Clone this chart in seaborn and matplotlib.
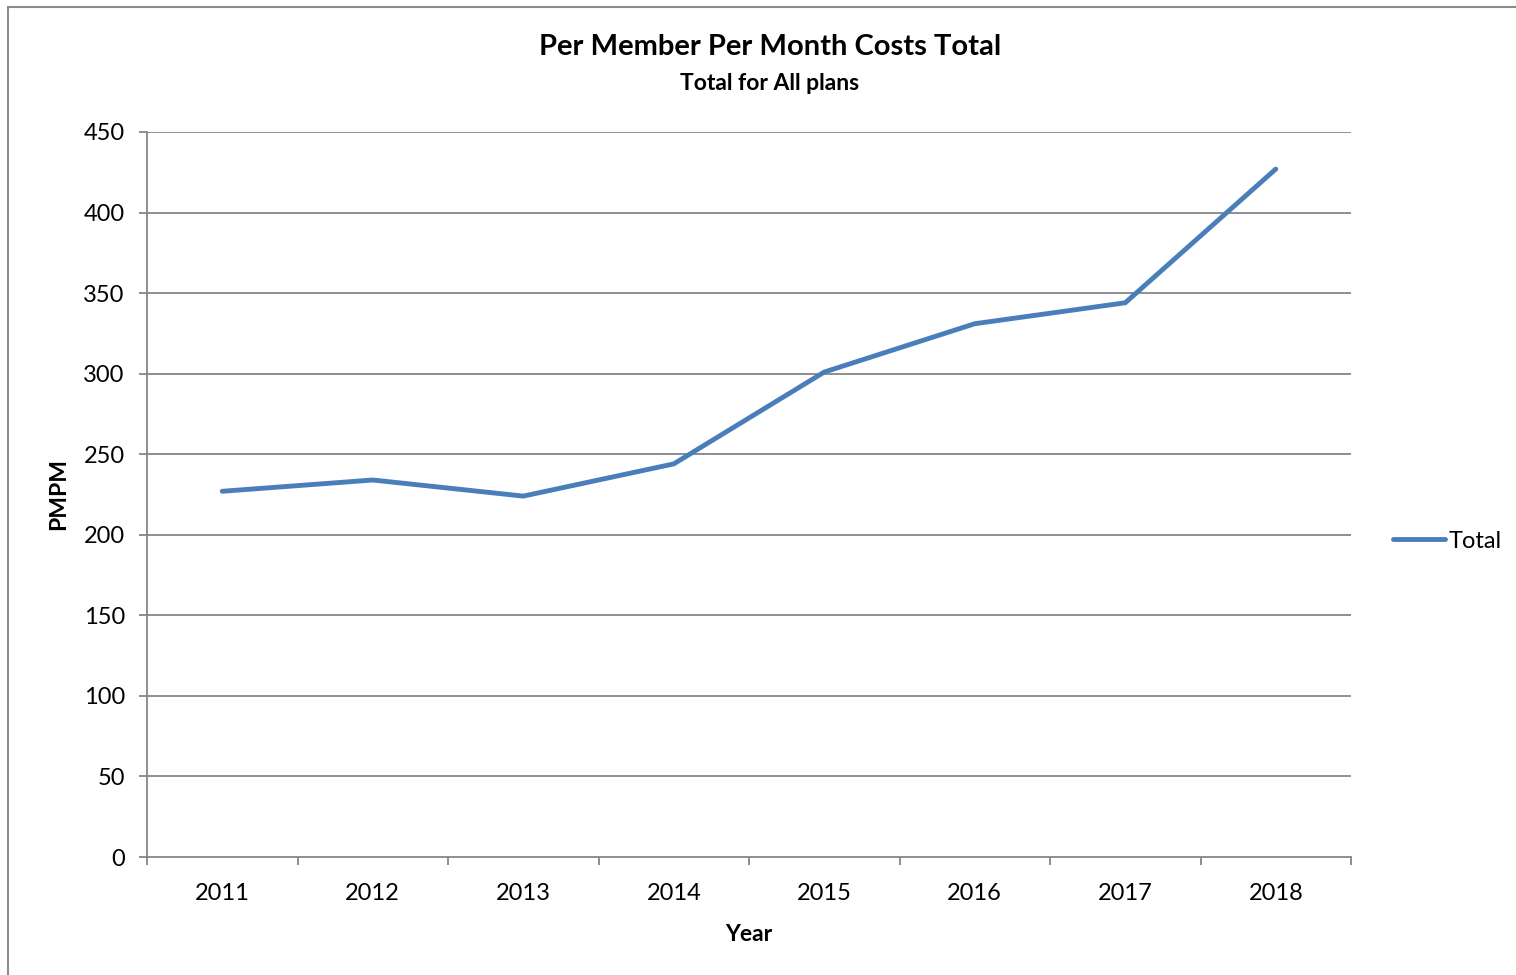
import matplotlib
matplotlib.use("Agg")
import matplotlib.pyplot as plt
from matplotlib.patches import Rectangle
from matplotlib.lines import Line2D
import seaborn as sns
import pandas as pd

# Per member per month costs, all plans combined
years = ["2011", "2012", "2013", "2014", "2015", "2016", "2017", "2018"]
pmpm = [227, 234, 224, 244, 301, 331, 344, 427]
series_name = "Total"
y_ticks = [0, 50, 100, 150, 200, 250, 300, 350, 400, 450]

df = pd.DataFrame({"Year": years, "PMPM": pmpm})

sns.set_theme(style="white")
plt.rcParams["font.family"] = ["Lato", "DejaVu Sans"]
plt.rcParams["text.color"] = "black"
plt.rcParams["axes.labelcolor"] = "black"

W, H = 1516, 975
fig = plt.figure(figsize=(W / 100, H / 100), dpi=100)
ax = fig.add_axes([147 / W, 1 - 857 / H, (1351 - 147) / W, (857 - 132) / H])

grid_c = "#868686"
line_c = "#4A7EBB"

sns.lineplot(data=df, x="Year", y="PMPM", ax=ax, color=line_c, linewidth=3.5,
             solid_capstyle="round", solid_joinstyle="miter", sort=False)

ax.set_xlim(-0.5, len(years) - 0.5)
ax.set_ylim(y_ticks[0], y_ticks[-1])
ax.set_yticks(y_ticks)
ax.set_yticklabels([str(v) for v in y_ticks])
ax.set_xticks(range(len(years)))
ax.set_xticklabels(years)
ax.set_xticks([i - 0.5 for i in range(len(years) + 1)], minor=True)

for y in y_ticks[1:]:
    ax.axhline(y, color=grid_c, linewidth=1.3, zorder=0)

for s in ["top", "right"]:
    ax.spines[s].set_visible(False)
for s in ["left", "bottom"]:
    ax.spines[s].set_color(grid_c)
    ax.spines[s].set_linewidth(1.3)

ax.tick_params(axis="y", which="major", direction="out", length=6, width=1.3,
               color=grid_c, labelsize=17, pad=10, left=True, labelcolor="black")
ax.tick_params(axis="x", which="major", length=0, labelsize=17, pad=19,
               labelcolor="black")
ax.tick_params(axis="x", which="minor", direction="out", length=6, width=1.3,
               color=grid_c, bottom=True)

ax.set_xlabel("Year", fontsize=16.5, fontweight="bold", labelpad=14)
ax.set_ylabel("PMPM", fontsize=16.5, fontweight="bold", labelpad=10)

fig.text(770 / W, 1 - 47 / H, "Per Member Per Month Costs Total", ha="center",
         va="center", fontsize=21, fontweight="bold")
fig.text(770 / W, 1 - 83 / H, "Total for All plans", ha="center",
         va="center", fontsize=16.5, fontweight="bold")

handle = Line2D([], [], color=line_c, linewidth=3.5, solid_capstyle="round")
fig.legend([handle], [series_name], loc="center left",
           bbox_to_anchor=(1381 / W, 1 - 541 / H), frameon=False,
           fontsize=17, handlelength=2.2, handletextpad=0.15, borderpad=0)

# chart frame
fig.patches.append(Rectangle((8 / W, -0.2), 1.5, (1 - 7 / H) + 0.2,
                             transform=fig.transFigure, fill=False,
                             edgecolor="#8c8c8c", linewidth=1.5))

fig.savefig("out.png", dpi=100)
